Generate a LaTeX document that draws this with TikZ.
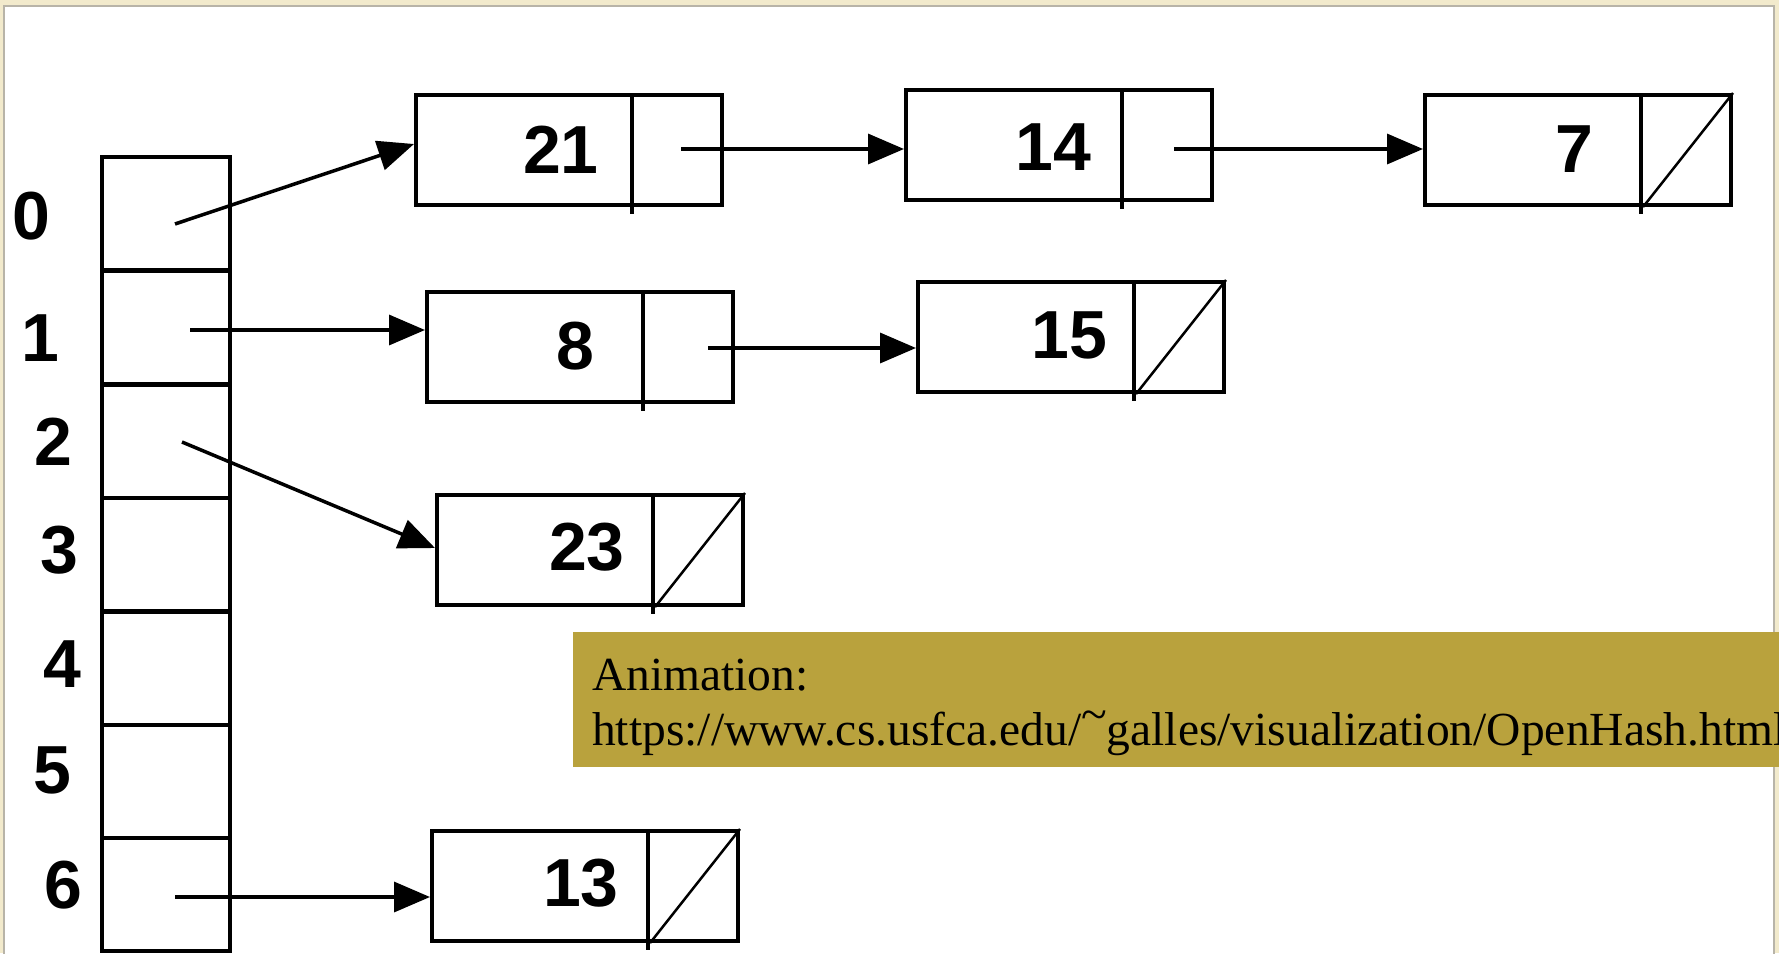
\documentclass[tikz,border=0pt]{standalone}
\usepackage{fontspec}
\setmainfont{Liberation Serif}
\newfontfamily\digitfont{Liberation Sans}
\usetikzlibrary{arrows.meta,calc}
\definecolor{pagebg}{RGB}{242,234,204}
\definecolor{framegray}{RGB}{184,180,168}
\definecolor{notegold}{RGB}{185,162,61}
\begin{document}
\begin{tikzpicture}[x=1pt,y=-1pt,
  lcell/.style={draw, line width=4pt, minimum width=306pt, minimum height=110pt, anchor=north west, inner sep=0pt},
  tcell/.style={draw, line width=4pt, minimum width=128pt, minimum height=113pt, anchor=north west, inner sep=0pt},
  divline/.style={line width=4pt},
  nilslash/.style={line width=2.5pt},
  num/.style={font=\digitfont\bfseries\fontsize{68}{80}\selectfont, inner sep=0pt},
  ptr/.style={line width=3.5pt, -{Triangle[length=36pt,width=30pt]}},
  notetext/.style={anchor=base west, inner sep=0pt, font=\fontsize{47.5}{55}\selectfont}]
\useasboundingbox (0,0) rectangle (1779,953);
\fill[pagebg] (0,0) rectangle (1779,953);
\draw[framegray, line width=2pt, fill=white] (4,6) rectangle (1774,965);

% hash table
\foreach \i/\y in {0/155,1/269,2/383,3/496,4/610,5/723,6/836} {
  \node[tcell] (t\i) at (100,\y) {};
}
\node[num] (l0) at (31,216) {0};
\node[num] (l1) at (40,338) {1};
\node[num] (l2) at (53,442) {2};
\node[num] (l3) at (59,550) {3};
\node[num] (l4) at (62,664) {4};
\node[num] (l5) at (52,770) {5};
\node[num] (l6) at (63,885) {6};

% list cells
\node[lcell] (b21) at (414,93) {};
\node[lcell] (b14) at (904,88) {};
\node[lcell] (b7)  at (1423,93) {};
\node[lcell] (b8)  at (425,290) {};
\node[lcell] (b15) at (916,280) {};
\node[lcell] (b23) at (435,493) {};
\node[lcell] (b13) at (430,829) {};

\foreach \b in {b21,b14,b7,b8,b15,b23,b13} {
  \draw[divline] ($(\b.north west)+(218,0)$) -- ($(\b.south west)+(218,7)$);
}
\foreach \b in {b7,b15,b23,b13} {
  \draw[nilslash] ($(\b.south west)+(220,0)$) -- (\b.north east);
}

\node[num] (v21) at (561,150) {21};
\node[num] (v14) at (1053,147) {14};
\node[num] (v7)  at (1574,149) {7};
\node[num] (v8)  at (575,346) {8};
\node[num] (v15) at (1069,335) {15};
\node[num] (v23) at (587,547) {23};
\node[num] (v13) at (581,883) {13};

% pointers
\coordinate (s0) at (175,224);
\coordinate (s1) at (190,330);
\coordinate (s2) at (182,442);
\coordinate (s6) at (175,897);
\coordinate (p21) at (681,149);
\coordinate (p14) at (1174,149);
\coordinate (p8) at (708,348);

\draw[ptr] (s0) -- ($(b21.west)+(0,-6)$);
\draw[ptr] (s1) -- (b8.west |- s1);
\draw[ptr] (s2) -- ($(b23.west)+(0,-2)$);
\draw[ptr] (s6) -- (b13.west |- s6);
\draw[ptr] (p21) -- (b14.west |- p21);
\draw[ptr] (p14) -- (b7.west |- p14);
\draw[ptr] (p8) -- (b15.west |- p8);

% note box
\node[fill=notegold, minimum width=1210pt, minimum height=135pt, anchor=north west, inner sep=0pt] (note) at (573,632) {};
\node[notetext] (anim) at (592,690) {Animation:};
\node[notetext] (url) at (592,745) {https://www.cs.usfca.edu/\raisebox{.3em}{\textasciitilde}galles/visualization/OpenHash.html};
\end{tikzpicture}
\end{document}
